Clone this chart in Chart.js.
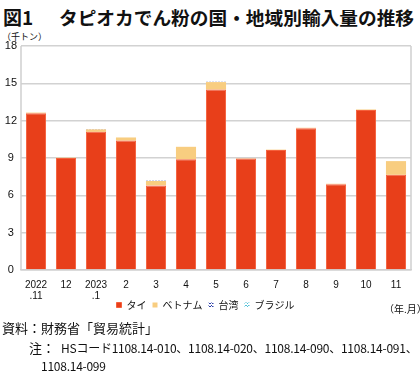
<!DOCTYPE html>
<html lang="ja">
<head>
<meta charset="utf-8">
<script src="https://cdn.jsdelivr.net/npm/chart.js@4"></script>
<style>
  html, body { margin: 0; padding: 0; background: #fff; }
  body { width: 420px; height: 375px; position: relative; overflow: hidden;
         font-family: "Noto Sans CJK JP", "Noto Sans", sans-serif; color: #111; }
  .txt { position: absolute; white-space: nowrap; }
  #fig { left: 3px; top: 3px; font-size: 19px; font-weight: bold; }
  #title { left: 59px; top: 3px; font-size: 18.7px; font-weight: bold; }
  #unit { left: 2px; top: 30px; font-size: 9px; }
  #ym { left: 384px; top: 301px; font-size: 10px; }
  #src { left: 2px; top: 318px; font-size: 13px; }
  #noteHead { left: 29px; top: 338px; font-size: 13px; }
  #note1 { left: 61px; top: 339px; font-size: 12px; letter-spacing: -0.25px; }
  #note2 { left: 41px; top: 357px; font-size: 12px; letter-spacing: -0.25px; }
  #chartBox { position: absolute; left: 0; top: 0; width: 420px; height: 328px; }
</style>
</head>
<body>
<div class="txt" id="fig">図1</div>
<div class="txt" id="title">タピオカでん粉の国・地域別輸入量の推移</div>
<div class="txt" id="unit">（千トン）</div>
<div id="chartBox"><canvas id="chart"></canvas></div>
<div class="txt" id="ym">（年.月）</div>
<div class="txt" id="src">資料：財務省「貿易統計」</div>
<div class="txt" id="noteHead">注：</div>
<div class="txt" id="note1">HSコード1108.14-010、1108.14-020、1108.14-090、1108.14-091、</div>
<div class="txt" id="note2">1108.14-099</div>

<script>
// データ（千トン）
const months = [
  ['2022', '.11'], '12', ['2023', '.1'], '2', '3', '4', '5', '6', '7', '8', '9', '10', '11'
];
const thai    = [12.6, 9.0, 11.1, 10.4, 6.8, 8.9, 14.5, 8.95, 9.65, 11.4, 6.9, 12.85, 7.65];
const vietnam = [0.05, 0.03, 0.2, 0.25, 0.35, 1.0, 0.6, 0.03, 0.03, 0.03, 0.03, 0.05, 1.1];
const taiwan  = [0, 0, 0.02, 0, 0.02, 0, 0.02, 0, 0, 0, 0, 0, 0];
const brazil  = [0, 0, 0, 0, 0, 0, 0, 0, 0, 0, 0, 0, 0];
const yTicks  = [0, 3, 6, 9, 12, 15, 18];

// 凡例用の模様
function makePattern(color, dots) {
  const c = document.createElement('canvas');
  c.width = 3; c.height = 3;
  const g = c.getContext('2d');
  g.fillStyle = '#fff';
  g.fillRect(0, 0, 3, 3);
  g.fillStyle = color;
  dots.forEach(d => g.fillRect(d[0], d[1], 1, 1));
  return g.createPattern(c, 'repeat');
}
const taiwanFill = makePattern('#2c3fa8', [[0, 0], [2, 0], [1, 2]]);
const brazilFill = makePattern('#4fc0d8', [[1, 0], [0, 2], [2, 2]]);

// 枠線
const framePlugin = {
  id: 'frame',
  afterDatasetsDraw(chart) {
    const a = chart.chartArea;
    const ctx = chart.ctx;
    ctx.save();
    ctx.strokeStyle = '#cfcfcf';
    ctx.lineWidth = 1.5;
    ctx.beginPath();
    ctx.moveTo(a.left, a.top); ctx.lineTo(a.left, a.bottom);
    ctx.moveTo(a.right, a.top); ctx.lineTo(a.right, a.bottom);
    ctx.stroke();
    ctx.restore();
  }
};

// 凡例を少し上へ
const legendShift = {
  id: 'legendShift',
  afterLayout(chart) {
    if (chart.legend) {
      chart.legend.top -= 8;
      chart.legend.bottom -= 8;
    }
  }
};

const ctx = document.getElementById('chart').getContext('2d');
new Chart(ctx, {
  type: 'bar',
  data: {
    labels: months,
    datasets: [
      { label: 'タイ', data: thai, backgroundColor: '#e83f1a', borderColor: '#f5603c', borderWidth: 1 },
      { label: 'ベトナム', data: vietnam, backgroundColor: '#f8cd80', borderColor: '#f8cd80', borderWidth: 0 },
      { label: '台湾', data: taiwan, backgroundColor: taiwanFill, borderWidth: 0 },
      { label: 'ブラジル', data: brazil, backgroundColor: brazilFill, borderWidth: 0 }
    ]
  },
  options: {
    responsive: true,
    maintainAspectRatio: false,
    animation: false,
    barPercentage: 0.67,
    categoryPercentage: 1,
    layout: { padding: { left: 0, right: 9, top: 46, bottom: 0 } },
    plugins: {
      tooltip: { enabled: false },
      legend: {
        position: 'bottom',
        labels: {
          boxWidth: 5, boxHeight: 5, padding: 6,
          color: '#111',
          font: { family: '"Noto Sans CJK JP", sans-serif', size: 10 }
        }
      }
    },
    scales: {
      x: {
        stacked: true,
        afterFit(scale) { scale.height = 32; },
        grid: { display: false },
        border: { color: '#cfcfcf', width: 1.5 },
        ticks: {
          color: '#111', maxRotation: 0, autoSkip: false, padding: 1.5,
          font: { family: '"Liberation Sans", Arial, sans-serif', size: 10, lineHeight: 1.1 }
        }
      },
      y: {
        stacked: true,
        min: 0, max: 18,
        afterFit(scale) { scale.width = 21; },
        afterBuildTicks(scale) { scale.ticks = yTicks.map(v => ({ value: v })); },
        grid: { color: '#d2d2d2', lineWidth: 1.5, drawTicks: false },
        border: { display: false },
        ticks: {
          color: '#111', padding: 4, crossAlign: 'center',
          font: { family: '"Liberation Sans", Arial, sans-serif', size: 11 }
        }
      }
    }
  },
  plugins: [framePlugin, legendShift]
});
</script>
</body>
</html>
